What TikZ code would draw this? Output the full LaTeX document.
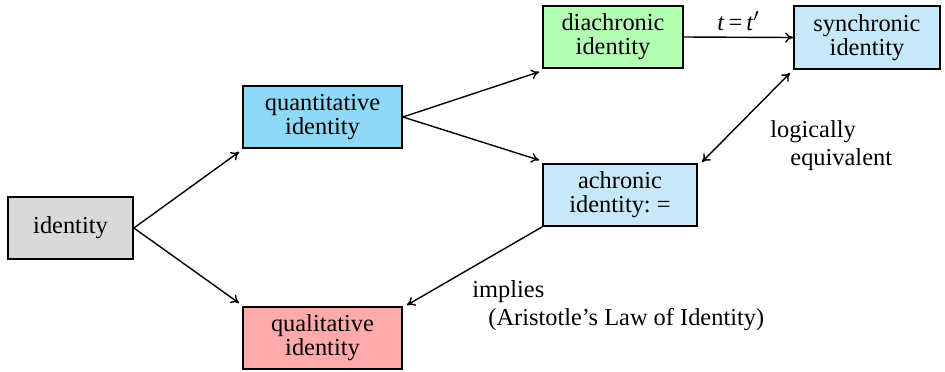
\documentclass[tikz,border=0pt]{standalone}
\usepackage{fontspec}
\setmainfont{Liberation Serif}
\usetikzlibrary{arrows.meta}
\definecolor{cgray}{HTML}{D9D9D9}
\definecolor{cquant}{HTML}{8ED8F8}
\definecolor{cgreen}{HTML}{B3FFB3}
\definecolor{clight}{HTML}{C6E8F8}
\definecolor{cpink}{HTML}{FFAAAA}
\begin{document}
\begin{tikzpicture}[x=0.5pt,y=-0.5pt,
  box/.style={draw=black,line width=0.9pt,align=center,inner sep=0pt,font=\fontsize{12.2}{12}\selectfont},
  lbl/.style={inner sep=0pt,align=left,font=\fontsize{12.2}{14}\selectfont},
  conn/.style={line width=0.7pt,-{To[length=4pt,width=5pt]}}]
\useasboundingbox (0,0) rectangle (945,371);
\node[box,fill=cgray,minimum width=62.5pt,minimum height=31pt] (id) at (70.5,228) {identity};
\node[box,fill=cquant,minimum width=79.5pt,minimum height=31pt] (quant) at (322.5,117) {quantitative\\identity};
\node[box,fill=cpink,minimum width=79.5pt,minimum height=31pt] (qual) at (322.5,338) {qualitative\\identity};
\node[box,fill=cgreen,minimum width=70pt,minimum height=31pt] (dia) at (613,37) {diachronic\\identity};
\node[box,fill=clight,minimum width=77pt,minimum height=31pt] (ach) at (620,195) {achronic\\identity:\ =};
\node[box,fill=clight,minimum width=73pt,minimum height=31.5pt] (syn) at (867,37.5) {synchronic\\identity};
\draw[conn] (id.east) -- ([shift={(-3,3)}]quant.south west);
\draw[conn] (id.east) -- ([shift={(-3,-3)}]qual.north west);
\draw[conn] (quant.east) -- ([shift={(-3,3)}]dia.south west);
\draw[conn] (quant.east) -- ([shift={(-3,-3)}]ach.north west);
\draw[conn] (dia.east) -- node[above,inner sep=3pt,font=\fontsize{12.2}{12}\selectfont] (tl) {\textit{t}\,=\,\textit{t}$'$} (syn.west);
\draw[line width=0.7pt,{To[length=4pt,width=5pt]}-{To[length=4pt,width=5pt]}] ([shift={(4,-1)}]ach.north east) -- ([shift={(-3,3)}]syn.south west);
\draw[conn] (ach.south west) -- ([shift={(4,-1)}]qual.north east);
\node[lbl,anchor=west] (le) at (770,146) {logically\\\hspace{10pt}equivalent};
\node[lbl,anchor=west] (im) at (472,306) {implies\\\hspace{8pt}(Aristotle’s Law of Identity)};
\end{tikzpicture}
\end{document}
